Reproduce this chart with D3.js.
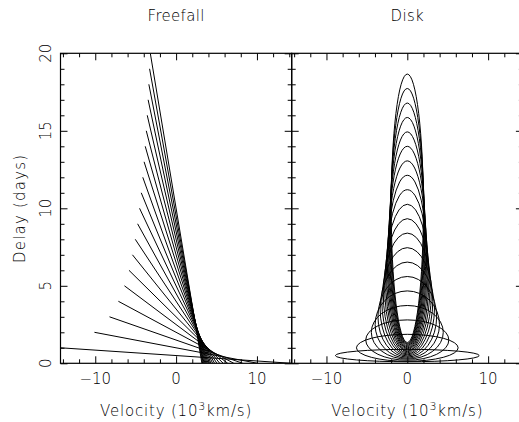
<!DOCTYPE html>
<html>
<head>
<script src="https://d3js.org/d3.v7.min.js"></script>
<style>
body {
  margin: 0;
  background: white;
  font-family: "DejaVu Sans", sans-serif;
}
text {
  font-weight: 200;
}
</style>
</head>
<body>
<div id="chart"></div>
<script>
// Freefall: one straight line per shell, from (-v, max delay) down to (+v, 0)
const freefallDelay = [1, 2, 3, 4, 5, 6, 7, 8, 9, 10, 11, 12, 13, 14, 15, 16, 17, 18, 19, 20];
const freefallVelocity = [14.28, 10.10, 8.24, 7.14, 6.39, 5.83, 5.40, 5.05, 4.76, 4.52,
                          4.31, 4.12, 3.96, 3.82, 3.69, 3.57, 3.46, 3.37, 3.28, 3.19];

// Disk: one ellipse per ring, centred on v = 0
const diskCenter = [0.5, 1.0, 1.5, 2.0, 2.5, 3.0, 3.5, 4.0, 4.5, 5.0,
                    5.5, 6.0, 6.5, 7.0, 7.5, 8.0, 8.5, 9.0, 9.5, 10.0];
const diskHalfDelay = [0.40, 0.87, 1.30, 1.73, 2.17, 2.60, 3.03, 3.46, 3.90, 4.33,
                       4.76, 5.20, 5.63, 6.06, 6.50, 6.93, 7.36, 7.79, 8.23, 8.66];
const diskHalfVelocity = [8.90, 6.29, 5.14, 4.45, 3.98, 3.63, 3.36, 3.15, 2.97, 2.81,
                          2.68, 2.57, 2.47, 2.38, 2.30, 2.22, 2.16, 2.10, 2.04, 1.99];

const panelTitles = ["Freefall", "Disk"];
const xMajor = [-10, 0, 10];
const xMinor = [-14, -12, -8, -6, -4, -2, 2, 4, 6, 8, 12, 14];
const yMajor = [0, 5, 10, 15, 20];
const yMinor = [1, 2, 3, 4, 6, 7, 8, 9, 11, 12, 13, 14, 16, 17, 18, 19];

const width = 519;
const height = 422;
const plotTop = 53.3;
const plotBottom = 363.3;
const panelEdges = [[60.5, 291.7], [291.7, 522.9]];
const majorLen = 7;
const minorLen = 4;

const svg = d3.create("svg")
    .attr("width", width)
    .attr("height", height)
    .attr("viewBox", [0, 0, width, height]);

const y = d3.scaleLinear()
    .domain([0, 20])
    .range([plotBottom, plotTop]);

panelEdges.forEach(([left, right], p) => {
  const x = d3.scaleLinear()
      .domain([-14.3, 14.3])
      .range([left, right]);

  const panel = svg.append("g");

  // clip marks to the frame
  panel.append("clipPath")
      .attr("id", "clip" + p)
    .append("rect")
      .attr("x", left)
      .attr("y", plotTop)
      .attr("width", right - left)
      .attr("height", plotBottom - plotTop);

  const marks = panel.append("g")
      .attr("clip-path", `url(#clip${p})`)
      .attr("fill", "none")
      .attr("stroke", "black")
      .attr("stroke-width", 1);

  if (p === 0) {
    marks.selectAll("line")
      .data(freefallDelay)
      .join("line")
        .attr("x1", (d, i) => x(-freefallVelocity[i]))
        .attr("y1", d => y(d))
        .attr("x2", (d, i) => x(freefallVelocity[i]))
        .attr("y2", y(0));
  } else {
    marks.selectAll("ellipse")
      .data(diskCenter)
      .join("ellipse")
        .attr("cx", x(0))
        .attr("cy", d => y(d))
        .attr("rx", (d, i) => x(diskHalfVelocity[i]) - x(0))
        .attr("ry", (d, i) => y(0) - y(diskHalfDelay[i]));
  }

  // ticks on all four sides, pointing inward
  const tickAxes = [
    [d3.axisBottom(x), `translate(0,${plotBottom})`, xMajor, xMinor],
    [d3.axisTop(x), `translate(0,${plotTop})`, xMajor, xMinor],
    [d3.axisLeft(y), `translate(${left},0)`, yMajor, yMinor],
    [d3.axisRight(y), `translate(${right},0)`, yMajor, yMinor]
  ];
  tickAxes.forEach(([axis, tr, major, minor]) => {
    panel.append("g")
        .attr("transform", tr)
        .call(axis.tickValues(minor).tickSize(-minorLen).tickFormat(""))
        .call(g => g.select(".domain").remove());
    panel.append("g")
        .attr("transform", tr)
        .call(axis.tickValues(major).tickSize(-majorLen).tickFormat(""))
        .call(g => g.select(".domain").remove());
  });

  // frame
  panel.append("rect")
      .attr("x", left)
      .attr("y", plotTop)
      .attr("width", right - left)
      .attr("height", plotBottom - plotTop)
      .attr("fill", "none")
      .attr("stroke", "black")
      .attr("stroke-width", 1.2);

  // x tick labels
  panel.append("g")
      .attr("font-size", 15)
      .attr("text-anchor", "middle")
    .selectAll("text")
    .data(xMajor)
    .join("text")
      .attr("x", d => x(d))
      .attr("y", 383.5)
      .text(d => d < 0 ? "\u2212" + Math.abs(d) : d);

  // title
  panel.append("text")
      .attr("x", x(0))
      .attr("y", 20.5)
      .attr("font-size", 15)
      .attr("letter-spacing", 0.3)
      .attr("text-anchor", "middle")
      .text(panelTitles[p]);

  // x label
  const xl = panel.append("text")
      .attr("x", x(0))
      .attr("y", 415.7)
      .attr("font-size", 15)
      .attr("letter-spacing", 0.8)
      .attr("text-anchor", "middle");
  xl.append("tspan").text("Velocity (10");
  xl.append("tspan").attr("font-size", 11).attr("dy", -6).text("3");
  xl.append("tspan").attr("dy", 6).text("km/s)");
});

// y tick labels, rotated, only on the left panel
svg.append("g")
    .attr("font-size", 15)
    .attr("text-anchor", "middle")
  .selectAll("text")
  .data(yMajor)
  .join("text")
    .attr("transform", d => `translate(50.7,${y(d)}) rotate(-90)`)
    .text(d => d);

svg.append("text")
    .attr("transform", `translate(25,${(plotTop + plotBottom) / 2}) rotate(-90)`)
    .attr("font-size", 15)
    .attr("letter-spacing", 1.2)
    .attr("text-anchor", "middle")
    .text("Delay (days)");

document.getElementById("chart").appendChild(svg.node());
</script>
</body>
</html>
